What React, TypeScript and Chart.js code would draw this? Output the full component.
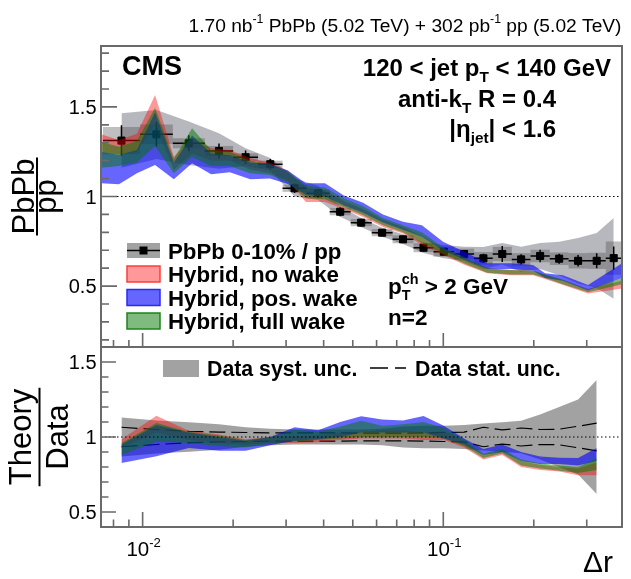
import React, { useEffect, useRef } from 'react';
import { Chart, registerables } from 'chart.js';
Chart.register(...registerables);

const W = 631;
const H = 579;
const FONT = '"Liberation Sans", Arial, Helvetica, sans-serif';
const FRAME = '#6a6a6a';

// ---------- data: top panel (PbPb / pp) ----------
const binEdges = [0.00738, 0.0098, 0.0126, 0.0161, 0.02, 0.0242, 0.0292, 0.0351, 0.0419, 0.0492, 0.0578, 0.0678, 0.0796, 0.0928, 0.1086, 0.1266, 0.146, 0.169, 0.195, 0.226, 0.261, 0.302, 0.347, 0.392];
const ratioPbPbPP = [1.312, 1.347, 1.297, 1.254, 1.219, 1.18, 1.046, 1.018, 0.915, 0.854, 0.798, 0.761, 0.714, 0.692, 0.679, 0.655, 0.679, 0.649, 0.668, 0.653, 0.641, 0.641, 0.656];
const statErr = [0.085, 0.068, 0.045, 0.042, 0.038, 0.03, 0.026, 0.025, 0.025, 0.022, 0.02, 0.02, 0.02, 0.02, 0.022, 0.025, 0.045, 0.028, 0.035, 0.028, 0.032, 0.042, 0.065];
const systBoxErr = [0.076, 0.055, 0.028, 0.028, 0.022, 0.02, 0.02, 0.02, 0.02, 0.02, 0.02, 0.022, 0.025, 0.028, 0.03, 0.035, 0.04, 0.035, 0.035, 0.035, 0.043, 0.045, 0.093];
const systBandHi = [1.465, 1.483, 1.418, 1.353, 1.27, 1.215, 1.1, 1.06, 0.945, 0.88, 0.825, 0.79, 0.745, 0.73, 0.72, 0.718, 0.74, 0.72, 0.74, 0.747, 0.768, 0.796, 0.88];
const systBandLo = [1.16, 1.21, 1.176, 1.155, 1.17, 1.145, 1.0, 0.98, 0.887, 0.83, 0.775, 0.735, 0.685, 0.655, 0.64, 0.595, 0.62, 0.58, 0.595, 0.56, 0.515, 0.49, 0.43];

// hybrid model bands (top panel)
const modelDr = [0.00727, 0.00834, 0.00957, 0.011, 0.0127, 0.0146, 0.0169, 0.0195, 0.0228, 0.0265, 0.0304, 0.0349, 0.0404, 0.0467, 0.0541, 0.063, 0.0734, 0.0849, 0.0998, 0.118, 0.14, 0.167, 0.199, 0.218, 0.25, 0.303, 0.393];
const noWakeLo = [1.25, 1.232, 1.25, 1.4, 1.15, 1.24, 1.2, 1.2, 1.15, 1.13, 1.09, 0.97, 0.97, 0.93, 0.885, 0.83, 0.794, 0.729, 0.673, 0.617, 0.571, 0.561, 0.561, 0.54, 0.506, 0.459, 0.487];
const noWakeHi = [1.347, 1.316, 1.35, 1.567, 1.222, 1.329, 1.27, 1.26, 1.213, 1.189, 1.145, 1.05, 1.035, 0.975, 0.93, 0.87, 0.83, 0.78, 0.71, 0.655, 0.6, 0.59, 0.585, 0.565, 0.535, 0.485, 0.53];
const fullWakeLo = [1.16, 1.17, 1.19, 1.28, 1.13, 1.22, 1.17, 1.17, 1.13, 1.12, 1.08, 0.99, 0.985, 0.94, 0.895, 0.84, 0.8, 0.74, 0.68, 0.625, 0.575, 0.565, 0.565, 0.545, 0.51, 0.465, 0.51];
const fullWakeHi = [1.306, 1.278, 1.31, 1.496, 1.21, 1.381, 1.26, 1.25, 1.2, 1.18, 1.14, 1.06, 1.05, 0.99, 0.945, 0.88, 0.84, 0.8, 0.715, 0.66, 0.6, 0.59, 0.585, 0.565, 0.535, 0.48, 0.545];
const posWakeLo = [1.074, 1.068, 1.13, 1.176, 1.096, 1.185, 1.124, 1.135, 1.096, 1.1, 1.07, 1.01, 1.0, 0.95, 0.91, 0.855, 0.815, 0.775, 0.7, 0.645, 0.595, 0.595, 0.585, 0.545, 0.53, 0.475, 0.545];
const posWakeHi = [1.25, 1.232, 1.26, 1.47, 1.19, 1.34, 1.24, 1.23, 1.19, 1.18, 1.145, 1.074, 1.074, 1.005, 0.965, 0.9, 0.859, 0.84, 0.747, 0.69, 0.627, 0.627, 0.617, 0.571, 0.561, 0.506, 0.627];

// ---------- data: bottom panel (Theory / Data), first 22 bins ----------
const rNoWakeLo = [0.93, 1.03, 0.98, 0.96, 0.95, 0.96, 0.96, 0.965, 0.98, 0.99, 0.99, 0.99, 0.98, 0.98, 0.93, 0.85, 0.88, 0.8, 0.78, 0.77, 0.745, 0.745];
const rNoWakeHi = [0.985, 1.142, 1.042, 1.016, 0.985, 1.0, 1.005, 1.01, 1.03, 1.035, 1.045, 1.045, 1.03, 1.04, 0.975, 0.88, 0.91, 0.84, 0.815, 0.8, 0.79, 0.83];
const rFullWakeLo = [0.88, 0.97, 0.96, 0.94, 0.93, 0.955, 0.97, 0.98, 0.99, 1.0, 1.0, 1.0, 1.0, 0.99, 0.94, 0.86, 0.89, 0.81, 0.79, 0.775, 0.76, 0.78];
const rFullWakeHi = [0.96, 1.093, 1.035, 1.01, 0.98, 1.0, 1.05, 1.035, 1.07, 1.109, 1.075, 1.085, 1.1, 1.06, 0.985, 0.89, 0.92, 0.85, 0.825, 0.81, 0.8, 0.86];
const rPosWakeLo = [0.827, 0.871, 0.927, 0.909, 0.909, 0.945, 0.975, 0.985, 1.0, 1.03, 1.03, 1.03, 1.03, 0.99, 0.95, 0.88, 0.9, 0.84, 0.82, 0.82, 0.81, 0.84];
const rPosWakeHi = [0.95, 1.08, 1.03, 1.0, 0.975, 1.0, 1.065, 1.045, 1.1, 1.138, 1.116, 1.11, 1.14, 1.075, 0.99, 0.92, 0.95, 0.9, 0.87, 0.862, 0.86, 0.927];
const dataSystRel = [0.13, 0.11, 0.098, 0.085, 0.065, 0.055, 0.05, 0.05, 0.05, 0.05, 0.055, 0.07, 0.075, 0.075, 0.08, 0.09, 0.098, 0.109, 0.15, 0.2, 0.25, 0.38];
const dataStatRel = [0.065, 0.05, 0.038, 0.033, 0.03, 0.028, 0.027, 0.027, 0.027, 0.026, 0.026, 0.026, 0.027, 0.03, 0.032, 0.065, 0.047, 0.06, 0.05, 0.052, 0.072, 0.092];

// ---------- axes ----------
const xMin = 0.00727;
const xMax = 0.393;
const topYMin = 0.16;
const topYMax = 1.84;
const botYMin = 0.4;
const botYMax = 1.6;
const xMajorTicks = [0.01, 0.1];
const xMajorExp = ['-2', '-1'];
const xMinorTicks = [0.008, 0.009, 0.02, 0.03, 0.04, 0.05, 0.06, 0.07, 0.08, 0.09, 0.2, 0.3];
const yMajorTicks = [0.5, 1, 1.5];
const yMajorLabels = ['0.5', '1', '1.5'];
const topYMinor = [0.2, 0.3, 0.4, 0.6, 0.7, 0.8, 0.9, 1.1, 1.2, 1.3, 1.4, 1.6, 1.7, 1.8];
const botYMinor = [0.4, 0.6, 0.7, 0.8, 0.9, 1.1, 1.2, 1.3, 1.4, 1.6];

const binCenters = binEdges.slice(0, -1).map((lo, i) => Math.sqrt(lo * binEdges[i + 1]));
const ratioCenters = binCenters.slice(0, rNoWakeLo.length);

const RED = 'rgba(255,0,0,0.4)';
const BLUE = 'rgba(0,0,255,0.6)';
const GREEN = 'rgba(0,120,0,0.5)';
const SYST_TOP = 'rgba(105,105,120,0.48)';
const SYST_BOX = 'rgba(60,60,60,0.33)';
const SYST_BOT = 'rgba(100,100,100,0.6)';

type Seg = { t?: string; k?: 'n' | 'sup' | 'sub' | 'ss'; sup?: string; sub?: string };

function setFont(ctx: CanvasRenderingContext2D, size: number, bold: boolean) {
  ctx.font = `${bold ? 'bold ' : ''}${size}px ${FONT}`;
}

function segWidth(ctx: CanvasRenderingContext2D, s: Seg, size: number, bold: boolean) {
  const small = size * 0.64;
  if (!s.k || s.k === 'n') {
    setFont(ctx, size, bold);
    return ctx.measureText(s.t || '').width;
  }
  setFont(ctx, small, bold);
  if (s.k === 'ss') return Math.max(ctx.measureText(s.sup || '').width, ctx.measureText(s.sub || '').width);
  return ctx.measureText(s.t || '').width;
}

function drawRich(ctx: CanvasRenderingContext2D, segs: Seg[], x: number, y: number, size: number, bold: boolean, align: 'left' | 'right' | 'center') {
  const widths = segs.map((s) => segWidth(ctx, s, size, bold));
  const total = widths.reduce((a, b) => a + b, 0);
  let cx = align === 'right' ? x - total : align === 'center' ? x - total / 2 : x;
  ctx.textAlign = 'left';
  ctx.textBaseline = 'alphabetic';
  ctx.fillStyle = '#000';
  const small = size * 0.64;
  segs.forEach((s, i) => {
    if (!s.k || s.k === 'n') {
      setFont(ctx, size, bold);
      ctx.fillText(s.t || '', cx, y);
    } else if (s.k === 'sup') {
      setFont(ctx, small, bold);
      ctx.fillText(s.t || '', cx, y - size * 0.42);
    } else if (s.k === 'sub') {
      setFont(ctx, small, bold);
      ctx.fillText(s.t || '', cx, y + size * 0.26);
    } else {
      setFont(ctx, small, bold);
      ctx.fillText(s.sup || '', cx, y - size * 0.45);
      ctx.fillText(s.sub || '', cx, y + size * 0.28);
    }
    cx += widths[i];
  });
  return total;
}

function drawFrac(ctx: CanvasRenderingContext2D, num: string, den: string, lineX: number, cy: number, size: number, numOff: number, denOff: number) {
  ctx.save();
  ctx.translate(lineX, cy);
  ctx.rotate(-Math.PI / 2);
  setFont(ctx, size, false);
  const wn = ctx.measureText(num).width;
  const wd = ctx.measureText(den).width;
  const wl = Math.max(wn, wd) + 2;
  ctx.fillStyle = '#000';
  ctx.textAlign = 'center';
  ctx.textBaseline = 'alphabetic';
  ctx.fillText(num, 0, numOff);
  ctx.fillText(den, 0, denOff);
  ctx.strokeStyle = '#000';
  ctx.lineWidth = 2;
  ctx.beginPath();
  ctx.moveTo(-wl / 2, 0);
  ctx.lineTo(wl / 2, 0);
  ctx.stroke();
  ctx.restore();
}

function band(xs: number[], lo: number[], hi: number[], color: string) {
  return [
    { data: xs.map((x, i) => ({ x, y: lo[i] })), borderColor: 'rgba(0,0,0,0)', borderWidth: 0, pointRadius: 0, fill: false, tension: 0 },
    { data: xs.map((x, i) => ({ x, y: hi[i] })), borderColor: 'rgba(0,0,0,0)', borderWidth: 0, pointRadius: 0, fill: '-1', backgroundColor: color, tension: 0 },
  ];
}

function drawAxes(chart: any, yMinor: number[], yMaj: number, yMin: number, xMaj: number, xMinL: number) {
  const { ctx, chartArea: a, scales } = chart;
  const x = scales.x;
  const y = scales.y;
  ctx.save();
  // dotted unity line
  ctx.strokeStyle = '#000';
  ctx.lineWidth = 1;
  ctx.setLineDash([1.5, 2.5]);
  const y1 = y.getPixelForValue(1);
  ctx.beginPath();
  ctx.moveTo(a.left, y1);
  ctx.lineTo(a.right, y1);
  ctx.stroke();
  ctx.setLineDash([]);
  // ticks
  ctx.strokeStyle = FRAME;
  ctx.lineWidth = 1.6;
  ctx.beginPath();
  yMajorTicks.forEach((v) => {
    const p = y.getPixelForValue(v);
    ctx.moveTo(a.left, p);
    ctx.lineTo(a.left + yMaj, p);
  });
  yMinor.forEach((v) => {
    const p = y.getPixelForValue(v);
    ctx.moveTo(a.left, p);
    ctx.lineTo(a.left + yMin, p);
  });
  xMajorTicks.forEach((v) => {
    const p = x.getPixelForValue(v);
    ctx.moveTo(p, a.bottom);
    ctx.lineTo(p, a.bottom - xMaj);
  });
  xMinorTicks.forEach((v) => {
    const p = x.getPixelForValue(v);
    ctx.moveTo(p, a.bottom);
    ctx.lineTo(p, a.bottom - xMinL);
  });
  ctx.stroke();
  // frame
  ctx.lineWidth = 2;
  ctx.strokeRect(a.left, a.top, a.right - a.left, a.bottom - a.top);
  // y labels
  ctx.fillStyle = '#000';
  setFont(ctx, 20, false);
  ctx.textAlign = 'right';
  ctx.textBaseline = 'alphabetic';
  yMajorTicks.forEach((v, i) => {
    ctx.fillText(yMajorLabels[i], a.left - 4.5, y.getPixelForValue(v) + 7.2);
  });
  ctx.restore();
}

const topPlugin = {
  id: 'topDecor',
  afterDatasetDraw(chart: any, args: any) {
    if (args.index !== 7) return;
    const { ctx, chartArea: a, scales } = chart;
    const x = scales.x;
    const y = scales.y;
    ctx.save();
    ctx.beginPath();
    ctx.rect(a.left, a.top, a.right - a.left, a.bottom - a.top);
    ctx.clip();
    ctx.fillStyle = SYST_BOX;
    ratioPbPbPP.forEach((v, i) => {
      const x0 = x.getPixelForValue(binEdges[i]);
      const x1 = x.getPixelForValue(binEdges[i + 1]);
      const yt = y.getPixelForValue(v + systBoxErr[i]);
      const yb = y.getPixelForValue(v - systBoxErr[i]);
      ctx.fillRect(x0, yt, x1 - x0, yb - yt);
    });
    ctx.strokeStyle = '#000';
    ctx.lineWidth = 1.5;
    ctx.beginPath();
    ratioPbPbPP.forEach((v, i) => {
      const x0 = x.getPixelForValue(binEdges[i]);
      const x1 = x.getPixelForValue(binEdges[i + 1]);
      const xc = x.getPixelForValue(binCenters[i]);
      const yc = y.getPixelForValue(v);
      ctx.moveTo(x0, yc);
      ctx.lineTo(x1, yc);
      ctx.moveTo(xc, y.getPixelForValue(v + statErr[i]));
      ctx.lineTo(xc, y.getPixelForValue(v - statErr[i]));
    });
    ctx.stroke();
    ctx.restore();
  },
  afterDraw(chart: any) {
    const { ctx } = chart;
    drawAxes(chart, topYMinor, 16, 8, 14, 7);
    ctx.save();
    // header
    drawRich(ctx, [{ t: '1.70 nb' }, { k: 'sup', t: '-1' }, { t: ' PbPb (5.02 TeV) + 302 pb' }, { k: 'sup', t: '-1' }, { t: ' pp (5.02 TeV)' }], 621.5, 31.5, 19.2, false, 'right');
    // CMS
    drawRich(ctx, [{ t: 'CMS' }], 122, 75, 27, true, 'left');
    // selection text
    drawRich(ctx, [{ t: '120 < jet p' }, { k: 'sub', t: 'T' }, { t: ' < 140 GeV' }], 611, 76, 24, true, 'right');
    drawRich(ctx, [{ t: 'anti-k' }, { k: 'sub', t: 'T' }, { t: ' R = 0.4' }], 556, 107, 24, true, 'right');
    drawRich(ctx, [{ t: '|η' }, { k: 'sub', t: 'jet' }, { t: '| < 1.6' }], 556, 137, 24, true, 'right');
    drawRich(ctx, [{ t: 'p' }, { k: 'ss', sup: 'ch', sub: 'T' }, { t: ' > 2 GeV' }], 388, 294, 22.5, true, 'left');
    drawRich(ctx, [{ t: 'n=2' }], 388, 325, 22.5, true, 'left');
    // legend
    const rows = [250.5, 274, 297.5, 321];
    const bx0 = 127;
    const bx1 = 160;
    const bh = 16;
    // data entry
    ctx.fillStyle = SYST_BOT;
    ctx.fillRect(bx0, rows[0] - 7.5, bx1 - bx0, 15);
    ctx.strokeStyle = '#000';
    ctx.lineWidth = 1.5;
    ctx.beginPath();
    ctx.moveTo(bx0, rows[0]);
    ctx.lineTo(bx1, rows[0]);
    ctx.stroke();
    ctx.fillStyle = '#000';
    ctx.fillRect((bx0 + bx1) / 2 - 4, rows[0] - 4, 8, 8);
    const entries: [string, string, string][] = [
      ['Hybrid, no wake', RED, 'rgb(255,60,60)'],
      ['Hybrid, pos. wake', BLUE, 'rgb(40,40,255)'],
      ['Hybrid, full wake', GREEN, 'rgb(30,130,30)'],
    ];
    entries.forEach(([, fillC, edge], i) => {
      const cy = rows[i + 1];
      ctx.fillStyle = fillC;
      ctx.fillRect(bx0, cy - bh / 2, bx1 - bx0, bh);
      ctx.strokeStyle = edge;
      ctx.lineWidth = 1.5;
      ctx.strokeRect(bx0, cy - bh / 2, bx1 - bx0, bh);
    });
    const labels = ['PbPb 0-10% / pp', 'Hybrid, no wake', 'Hybrid, pos. wake', 'Hybrid, full wake'];
    labels.forEach((l, i) => drawRich(ctx, [{ t: l }], 168, rows[i] + 8, 22.3, true, 'left'));
    // y title
    drawFrac(ctx, 'PbPb', 'pp', 37, 196.5, 31, -3.5, 19);
    ctx.restore();
  },
};

const botPlugin = {
  id: 'botDecor',
  afterDraw(chart: any) {
    const { ctx, scales } = chart;
    drawAxes(chart, botYMinor, 15, 7.5, 15, 7.5);
    const x = scales.x;
    ctx.save();
    // x labels
    xMajorTicks.forEach((v, i) => {
      drawRich(ctx, [{ t: '10' }, { k: 'sup', t: xMajorExp[i] }], x.getPixelForValue(v) + 1, 556, 20.5, false, 'center');
    });
    // x title
    drawRich(ctx, [{ t: 'Δr' }], 613, 572, 30, false, 'right');
    // y title
    drawFrac(ctx, 'Theory', 'Data', 39.5, 437, 31, -8.5, 28);
    // legend
    ctx.fillStyle = SYST_BOT;
    ctx.fillRect(163, 360, 36, 17);
    drawRich(ctx, [{ t: 'Data syst. unc.' }], 207, 376, 21.3, true, 'left');
    ctx.strokeStyle = '#000';
    ctx.lineWidth = 1.3;
    ctx.setLineDash([18, 7]);
    ctx.beginPath();
    ctx.moveTo(370, 368);
    ctx.lineTo(406, 368);
    ctx.stroke();
    ctx.setLineDash([]);
    drawRich(ctx, [{ t: 'Data stat. unc.' }], 415, 376, 21.3, true, 'left');
    ctx.restore();
  },
};

export default function App() {
  const topRef = useRef<HTMLCanvasElement>(null);
  const botRef = useRef<HTMLCanvasElement>(null);

  useEffect(() => {
    const common = {
      responsive: false,
      animation: false as const,
      events: [] as any[],
      plugins: { legend: { display: false }, tooltip: { enabled: false }, title: { display: false } },
      elements: { line: { tension: 0 } },
    };

    const topDatasets: any[] = [
      ...band(modelDr, fullWakeLo, fullWakeHi, GREEN),
      ...band(modelDr, posWakeLo, posWakeHi, BLUE),
      ...band(modelDr, noWakeLo, noWakeHi, RED),
      {
        data: binCenters.map((x, i) => ({ x, y: ratioPbPbPP[i] })),
        showLine: false,
        pointStyle: 'rect',
        pointRadius: 5,
        pointBackgroundColor: '#000',
        pointBorderColor: '#000',
        pointBorderWidth: 1,
        borderColor: '#000',
        fill: false,
      },
      ...band(binCenters, systBandLo, systBandHi, SYST_TOP),
    ];

    const top = new Chart(topRef.current!, {
      type: 'line',
      data: { datasets: topDatasets },
      options: {
        ...common,
        layout: { padding: { left: 101, right: W - 622, top: 46, bottom: H - 347 } },
        scales: {
          x: { type: 'logarithmic', min: xMin, max: xMax, display: false },
          y: { type: 'linear', min: topYMin, max: topYMax, display: false },
        },
      } as any,
      plugins: [topPlugin],
    });

    const systLo = dataSystRel.map((r) => 1 - r);
    const systHi = dataSystRel.map((r) => 1 + r);
    const botDatasets: any[] = [
      ...band(ratioCenters, rFullWakeLo, rFullWakeHi, GREEN),
      ...band(ratioCenters, rPosWakeLo, rPosWakeHi, BLUE),
      ...band(ratioCenters, rNoWakeLo, rNoWakeHi, RED),
      { data: ratioCenters.map((x, i) => ({ x, y: 1 + dataStatRel[i] })), borderColor: '#000', borderWidth: 1.2, borderDash: [16, 6], pointRadius: 0, fill: false },
      { data: ratioCenters.map((x, i) => ({ x, y: 1 - dataStatRel[i] })), borderColor: '#000', borderWidth: 1.2, borderDash: [16, 6], pointRadius: 0, fill: false },
      ...band(ratioCenters, systLo, systHi, SYST_BOT),
    ];

    const bot = new Chart(botRef.current!, {
      type: 'line',
      data: { datasets: botDatasets },
      options: {
        ...common,
        layout: { padding: { left: 101, right: W - 622, top: 347, bottom: H - 527 } },
        scales: {
          x: { type: 'logarithmic', min: xMin, max: xMax, display: false },
          y: { type: 'linear', min: botYMin, max: botYMax, display: false },
        },
      } as any,
      plugins: [botPlugin],
    });

    return () => {
      top.destroy();
      bot.destroy();
    };
  }, []);

  const cs: React.CSSProperties = { position: 'absolute', left: 0, top: 0, width: W, height: H };
  return (
    <div style={{ position: 'absolute', left: 0, top: 0, width: W, height: H, background: '#fff' }}>
      <canvas ref={topRef} width={W} height={H} style={cs} />
      <canvas ref={botRef} width={W} height={H} style={cs} />
    </div>
  );
}
